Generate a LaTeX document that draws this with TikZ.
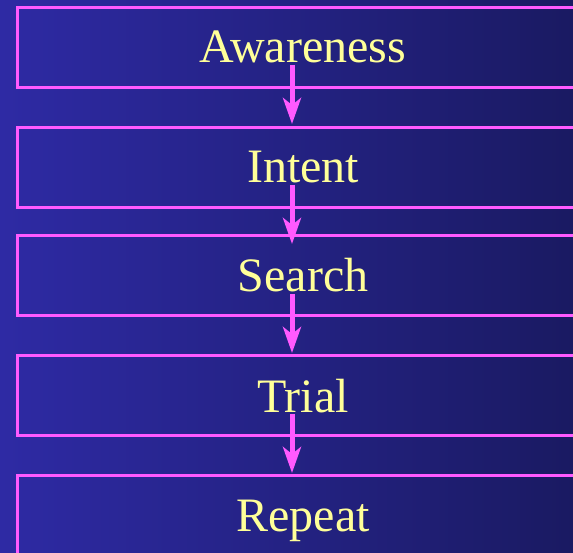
\documentclass[tikz,border=0pt]{standalone}
\usepackage{fontspec}
\setmainfont{Liberation Serif}
\usetikzlibrary{arrows.meta}
\definecolor{bgL}{RGB}{46,42,164}
\definecolor{bgR}{RGB}{26,26,98}
\definecolor{mag}{RGB}{255,90,255}
\definecolor{txt}{RGB}{255,255,153}
\tikzset{
  stagebox/.style={draw=mag, line width=3pt, rectangle, anchor=north west,
    minimum width=580pt, minimum height=80pt, inner sep=0pt},
  stagetext/.style={text=txt, anchor=base, inner sep=0pt,
    font=\fontsize{48}{50}\selectfont},
  arr/.style={mag, line width=5pt, -{Stealth[length=26pt,width=18pt,inset=7pt]}}
}
\begin{document}
\begin{tikzpicture}[x=1pt,y=-1pt]
\useasboundingbox (0,0) rectangle (573,553);
\clip (0,0) rectangle (573,553);
\shade[left color=bgL, right color=bgR] (0,0) rectangle (573,553);
\node[stagebox] (b1) at (16,6) {};
\node[stagebox] (b2) at (16,126) {};
\node[stagebox] (b3) at (16,234) {};
\node[stagebox] (b4) at (16,354) {};
\node[stagebox] (b5) at (16,474) {};
\node[stagetext] (t1) at (303,63) {Awareness};
\node[stagetext] (t2) at (303,183) {Intent};
\node[stagetext] (t3) at (303,292) {Search};
\node[stagetext] (t4) at (303,412) {Trial};
\node[stagetext] (t5) at (303,531) {Repeat};
\draw[arr] ([xshift=-11pt,yshift=-2pt]t1.base) -- ++(0,59);
\draw[arr] ([xshift=-11pt,yshift=-2pt]t2.base) -- ++(0,59);
\draw[arr] ([xshift=-11pt,yshift=-2pt]t3.base) -- ++(0,59);
\draw[arr] ([xshift=-11pt,yshift=-2pt]t4.base) -- ++(0,59);
\end{tikzpicture}
\end{document}
